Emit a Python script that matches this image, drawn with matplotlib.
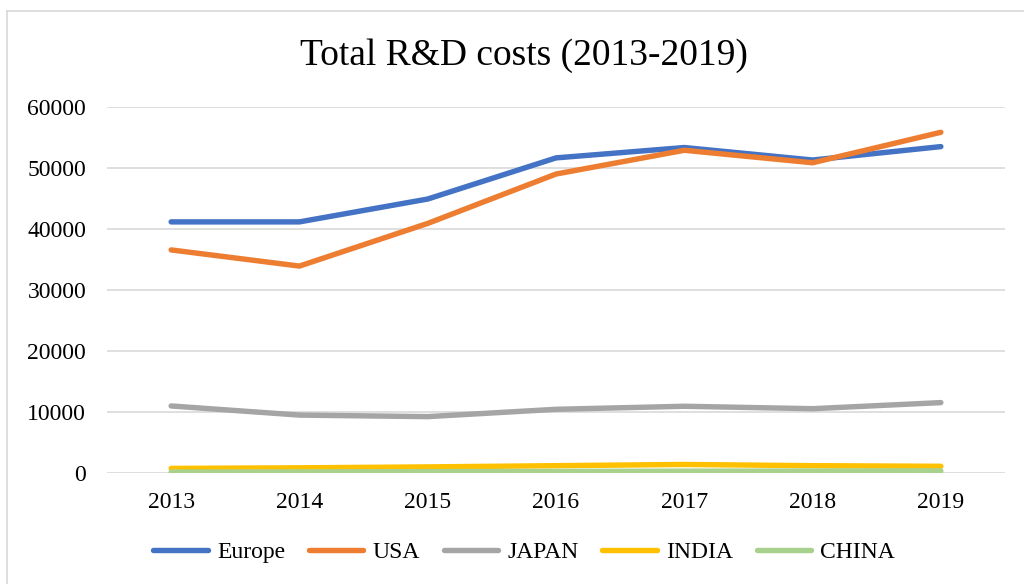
import matplotlib.pyplot as plt
from matplotlib.lines import Line2D
import numpy as np

plt.rcParams['font.family'] = ['Liberation Serif', 'DejaVu Serif']

years = ['2013', '2014', '2015', '2016', '2017', '2018', '2019']
europe = [41200, 41200, 44950, 51700, 53400, 51350, 53550]
usa = [36600, 33950, 40950, 49050, 52950, 50900, 55900]
japan = [11000, 9500, 9250, 10450, 10950, 10550, 11550]
india = [750, 850, 1000, 1200, 1400, 1200, 1100]
china = [150, 180, 220, 260, 300, 320, 340]

series = [
    ('Europe', europe, '#4472C4'),
    ('USA', usa, '#ED7D31'),
    ('JAPAN', japan, '#A5A5A5'),
    ('INDIA', india, '#FFC000'),
    ('CHINA', china, '#A9D18E'),
]

fig = plt.figure(figsize=(10.24, 5.84), dpi=100)
ax = fig.add_axes([107 / 1024, 1 - 473 / 584, 898 / 1024, (473 - 107.3) / 584])

x = np.arange(len(years))
for name, vals, col in series:
    ax.plot(x, vals, color=col, lw=3.9, solid_capstyle='round',
            solid_joinstyle='round', label=name)

ax.set_xlim(-0.5, len(years) - 0.5)
ax.set_ylim(0, 60000)
ax.set_yticks(np.arange(0, 60001, 10000))
ax.set_xticks(x)
ax.set_xticklabels(years)
ax.yaxis.grid(True, color='#D9D9D9', lw=1.2)
ax.set_axisbelow(True)
for s in ax.spines.values():
    s.set_visible(False)
ax.tick_params(length=0, labelsize=17)
ax.tick_params(axis='y', pad=15)
ax.tick_params(axis='x', pad=14)

fig.text(0.512, 1 - 56 / 584, 'Total R&D costs (2013-2019)', ha='center',
         va='center', fontsize=27)

handles = [Line2D([], [], color=c, lw=3.9, solid_capstyle='round') for _, _, c in series]
fig.legend(handles, [n for n, _, _ in series], loc='center',
           bbox_to_anchor=(0.512, 1 - 552 / 584), ncol=5, frameon=False,
           fontsize=17, handlelength=2.3, handletextpad=0.4, columnspacing=1.0)

# outer chart frame (top and left edges)
fig.add_artist(Line2D([7 / 1024, 1], [1 - 11 / 584, 1 - 11 / 584], color='#D9D9D9', lw=1.2))
fig.add_artist(Line2D([7 / 1024, 7 / 1024], [0, 1 - 11 / 584], color='#D9D9D9', lw=1.2))

fig.savefig('out.png', dpi=100)
